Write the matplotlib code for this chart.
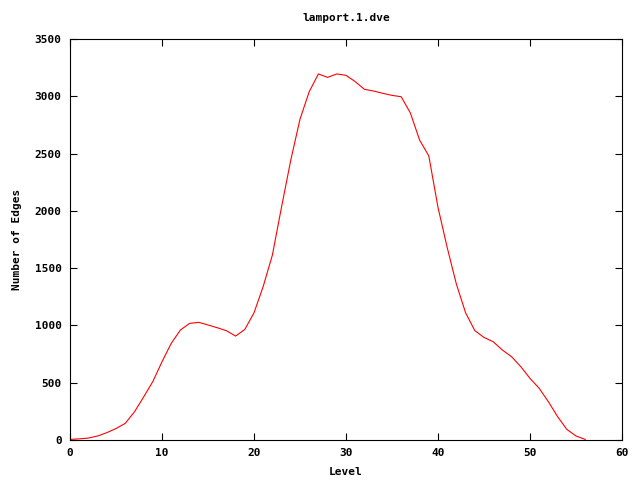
import matplotlib
matplotlib.use("Agg")
import matplotlib.pyplot as plt

# edges per BFS level
levels = list(range(0, 57))
edges = [5, 10, 17, 35, 64, 100, 145, 245, 375, 510, 683, 843, 960, 1018, 1027,
         1004, 980, 954, 907, 965, 1110, 1340, 1615, 2036, 2444, 2800, 3040, 3195,
         3165, 3195, 3183, 3128, 3061, 3046, 3026, 3008, 2996, 2854, 2618, 2480,
         2030, 1680, 1360, 1110, 955, 895, 858, 785, 727, 640, 538, 451, 334, 204,
         93, 35, 5]

font = {'family': 'DejaVu Sans Mono', 'weight': 'bold', 'size': 8}

fig = plt.figure(figsize=(6.4, 4.8), dpi=100)
ax = fig.add_axes([70/640, 40/480, 552/640, 401/480])

ax.plot(levels, edges, color='#ff0000', linewidth=0.8)

ax.set_xlim(0, 60)
ax.set_ylim(0, 3500)
ax.set_xticks(range(0, 61, 10))
ax.set_yticks(range(0, 3501, 500))
ax.tick_params(direction='in', length=5, width=0.8, top=True, right=True, pad=6)
for lab in ax.get_xticklabels() + ax.get_yticklabels():
    lab.set_fontfamily(font['family'])
    lab.set_fontweight('bold')
    lab.set_fontsize(font['size'])
for s in ax.spines.values():
    s.set_linewidth(0.8)

ax.set_title('lamport.1.dve', fontdict=font, pad=13)
ax.set_xlabel('Level', fontdict=font, labelpad=6)
ax.set_ylabel('Number of Edges', fontdict=font, labelpad=9)

fig.savefig('out.png', dpi=100)
